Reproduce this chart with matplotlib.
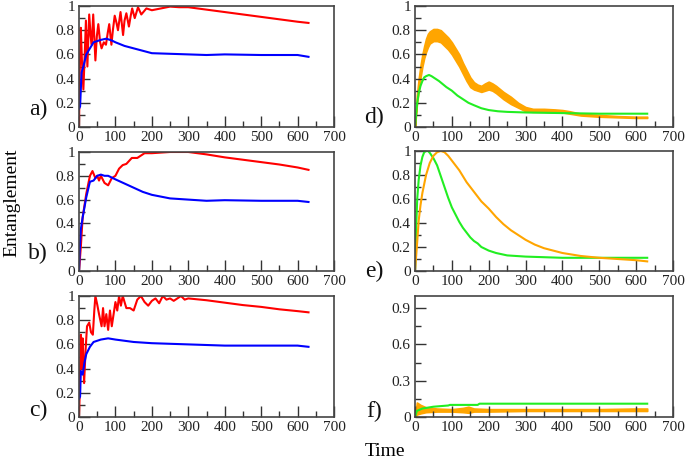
import numpy as np
import matplotlib
matplotlib.use("Agg")
import matplotlib.pyplot as plt
from matplotlib.ticker import MultipleLocator

plt.rcParams['font.family'] = ['Liberation Serif', 'DejaVu Serif']

# ---- data (time, value) ----
# panel a
a_red_t = [0, 2, 5, 8, 12, 16, 19, 23, 28, 32, 35, 39, 45, 49, 53, 58, 62, 68, 74, 79, 83, 89, 93, 98,
           103, 107, 114, 121, 125, 130, 137, 142, 146, 153, 162, 171, 185, 200, 225, 250, 275, 300,
           325, 350, 375, 400, 425, 450, 475, 500, 525, 550, 575, 600, 630]
a_red_v = [0.0, 0.45, 0.82, 0.55, 0.31, 0.62, 0.88, 0.5, 0.93, 0.75, 0.68, 0.93, 0.55, 0.75, 0.85, 0.7,
           0.65, 0.7, 0.68, 0.78, 0.85, 0.68, 0.8, 0.92, 0.86, 0.8, 0.95, 0.76, 0.88, 0.94, 0.83, 0.92,
           0.98, 0.9, 0.99, 0.93, 0.98, 0.965, 0.98, 0.995, 0.99, 0.99, 0.98, 0.97, 0.96, 0.95, 0.94,
           0.93, 0.92, 0.91, 0.9, 0.89, 0.88, 0.87, 0.86]
a_blue_t = [0, 3, 7, 12, 20, 30, 40, 50, 60, 75, 90, 100, 125, 150, 175, 200, 250, 300, 350, 400, 500,
            600, 630]
a_blue_v = [0.15, 0.17, 0.45, 0.5, 0.6, 0.65, 0.7, 0.71, 0.72, 0.73, 0.715, 0.7, 0.67, 0.65, 0.63,
            0.61, 0.605, 0.6, 0.595, 0.6, 0.595, 0.595, 0.58]

# panel b
b_red_t = [0, 5, 10, 20, 30, 37, 45, 50, 55, 60, 70, 80, 90, 100, 110, 120, 130, 145, 160, 180, 200,
           250, 300, 350, 400, 450, 500, 550, 600, 630]
b_red_v = [0.0, 0.2, 0.45, 0.65, 0.8, 0.84, 0.78, 0.8, 0.76, 0.8, 0.74, 0.72, 0.78, 0.8, 0.86, 0.89,
           0.9, 0.95, 0.95, 0.99, 0.99, 1.0, 1.0, 0.98, 0.955, 0.935, 0.915, 0.895, 0.87, 0.85]
b_blue_t = [0, 2, 5, 10, 20, 30, 40, 50, 60, 70, 80, 100, 125, 150, 175, 200, 250, 300, 350, 400, 500,
            600, 630]
b_blue_v = [0.0, 0.17, 0.35, 0.45, 0.62, 0.75, 0.76, 0.8, 0.81, 0.8, 0.8, 0.77, 0.735, 0.7, 0.665,
            0.64, 0.61, 0.6, 0.59, 0.595, 0.59, 0.59, 0.58]

# panel c
c_red_t = [0, 2, 5, 8, 10, 14, 18, 22, 28, 33, 38, 42, 45, 50, 55, 62, 66, 70, 75, 80, 85, 90, 95, 100,
           105, 110, 115, 120, 125, 130, 140, 150, 160, 170, 180, 190, 200, 210, 220, 230, 240, 250,
           260, 270, 280, 290, 300, 350, 400, 450, 500, 550, 600, 630]
c_red_v = [0.0, 0.2, 0.68, 0.4, 0.65, 0.28, 0.55, 0.75, 0.78, 0.7, 0.68, 0.88, 1.0, 0.93, 0.85, 0.75,
           0.9, 0.75, 0.85, 0.72, 0.88, 0.75, 0.85, 0.95, 0.88, 1.0, 0.92, 1.0, 0.95, 0.9, 0.9, 0.88, 0.97,
           1.0, 0.95, 0.92, 0.96, 0.98, 0.94, 1.0, 0.97, 0.98, 0.96, 0.98, 1.0, 0.97, 0.98, 0.965, 0.945,
           0.925, 0.91, 0.89, 0.875, 0.865]
c_blue_t = [0, 3, 5, 10, 15, 20, 30, 40, 60, 80, 100, 150, 200, 300, 400, 500, 600, 630]
c_blue_v = [0.15, 0.17, 0.38, 0.35, 0.45, 0.52, 0.58, 0.62, 0.64, 0.65, 0.64, 0.62, 0.61, 0.6, 0.59,
            0.59, 0.59, 0.58]

# panel d (orange is a thick oscillating band: lower / upper edge)
d_orange_t = [0, 5, 10, 15, 20, 25, 30, 35, 40, 50, 60, 70, 80, 90, 100, 110, 120, 130, 140, 150, 160,
              170, 180, 190, 200, 210, 220, 240, 260, 280, 300, 320, 350, 380, 400, 420, 450, 500, 550,
              600, 630]
d_orange_lo = [0.0, 0.18, 0.3, 0.41, 0.5, 0.57, 0.62, 0.66, 0.69, 0.71, 0.71, 0.7, 0.67, 0.64, 0.6, 0.55,
               0.5, 0.44, 0.38, 0.33, 0.31, 0.3, 0.29, 0.3, 0.31, 0.3, 0.28, 0.23, 0.19, 0.16, 0.13,
               0.125, 0.125, 0.12, 0.12, 0.11, 0.095, 0.085, 0.08, 0.075, 0.075]
d_orange_hi = [0.0, 0.26, 0.4, 0.51, 0.6, 0.67, 0.73, 0.77, 0.79, 0.81, 0.81, 0.8, 0.77, 0.74, 0.7,
               0.65, 0.6, 0.53, 0.47, 0.41, 0.37, 0.35, 0.34, 0.36, 0.375, 0.36, 0.34, 0.29, 0.25, 0.2,
               0.165, 0.15, 0.15, 0.145, 0.14, 0.13, 0.11, 0.1, 0.09, 0.085, 0.085]
d_green_t = [0, 3, 6, 10, 15, 20, 25, 30, 38, 45, 55, 65, 75, 85, 100, 115, 130, 145, 160, 180, 200,
             225, 250, 300, 400, 500, 630]
d_green_v = [0.0, 0.1, 0.2, 0.28, 0.34, 0.38, 0.41, 0.42, 0.43, 0.42, 0.4, 0.38, 0.355, 0.33, 0.3,
             0.26, 0.23, 0.2, 0.18, 0.155, 0.14, 0.13, 0.125, 0.12, 0.115, 0.11, 0.11]

# panel e
e_green_t = [0, 3, 6, 10, 15, 20, 25, 30, 35, 40, 50, 60, 70, 80, 90, 100, 110, 120, 130, 140, 150,
             160, 170, 180, 190, 200, 220, 250, 300, 350, 400, 630]
e_green_v = [0.0, 0.35, 0.6, 0.76, 0.88, 0.95, 0.99, 1.0, 1.0, 0.985, 0.94, 0.88, 0.79, 0.7, 0.61, 0.53,
             0.47, 0.41, 0.36, 0.32, 0.28, 0.25, 0.23, 0.2, 0.185, 0.17, 0.15, 0.13, 0.12, 0.115, 0.11, 0.11]
e_orange_t = [0, 5, 10, 15, 20, 30, 40, 50, 60, 70, 80, 90, 100, 110, 120, 130, 140, 150, 160, 170,
              180, 190, 200, 220, 240, 260, 280, 300, 325, 350, 375, 400, 450, 500, 550, 600, 630]
e_orange_v = [0.0, 0.2, 0.42, 0.55, 0.65, 0.8, 0.9, 0.96, 0.99, 1.0, 0.99, 0.96, 0.92, 0.88, 0.84, 0.79,
              0.74, 0.7, 0.66, 0.62, 0.58, 0.55, 0.52, 0.45, 0.39, 0.34, 0.3, 0.26, 0.22, 0.19, 0.17,
              0.15, 0.125, 0.11, 0.1, 0.09, 0.08]

# panel f
f_green_t = [0, 5, 20, 50, 90, 95, 170, 175, 630]
f_green_v = [0.0, 0.05, 0.07, 0.085, 0.095, 0.1, 0.1, 0.11, 0.11]
f_orange_t = [0, 5, 15, 30, 60, 100, 130, 145, 160, 200, 300, 400, 500, 600, 630]
f_orange_lo = [0.0, 0.02, 0.03, 0.04, 0.045, 0.045, 0.04, 0.035, 0.045, 0.045, 0.05, 0.05, 0.05, 0.05, 0.05]
f_orange_hi = [0.0, 0.12, 0.1, 0.08, 0.07, 0.065, 0.075, 0.085, 0.07, 0.065, 0.065, 0.065, 0.065, 0.07, 0.07]

RED, BLUE, ORANGE, GREEN = '#ff0000', '#0000ff', '#ffa500', '#22ee22'
W, H = 685, 462


def make_ax(fig, left, top, right, bottom):
    ax = fig.add_axes([left / W, 1 - bottom / H, (right - left) / W, (bottom - top) / H])
    ax.set_xlim(0, 700)
    ax.set_ylim(0, 1)
    ax.xaxis.set_major_locator(MultipleLocator(100))
    ax.xaxis.set_minor_locator(MultipleLocator(50))
    ax.yaxis.set_major_locator(MultipleLocator(0.2))
    ax.yaxis.set_minor_locator(MultipleLocator(0.1))
    ax.tick_params(which='both', direction='in', top=False, right=False, colors='#333333',
                   labelcolor='#222222', labelsize=11, width=1.0, pad=3)
    ax.tick_params(which='major', length=8)
    ax.tick_params(which='minor', length=4)
    ax.yaxis.set_major_formatter(lambda v, p: '0' if v == 0 else ('1' if abs(v - 1) < 1e-9 else '%g' % v))
    for s in ax.spines.values():
        s.set_color('#444444')
        s.set_linewidth(1.2)
    return ax


fig = plt.figure(figsize=(6.85, 4.62), dpi=100)

ax_a = make_ax(fig, 79, 6, 334, 127)
ax_a.plot(a_red_t, a_red_v, color=RED, lw=1.5)
ax_a.plot(a_blue_t, a_blue_v, color=BLUE, lw=1.5)

ax_b = make_ax(fig, 79, 152, 334, 271)
ax_b.plot(b_red_t, b_red_v, color=RED, lw=1.5)
ax_b.plot(b_blue_t, b_blue_v, color=BLUE, lw=1.5)

ax_c = make_ax(fig, 79, 296, 334, 417)
ax_c.plot(c_red_t, c_red_v, color=RED, lw=1.5)
ax_c.plot(c_blue_t, c_blue_v, color=BLUE, lw=1.5)

ax_d = make_ax(fig, 415, 6, 673, 127)
ax_d.fill_between(d_orange_t, d_orange_lo, d_orange_hi, color=ORANGE, lw=1.2, edgecolor=ORANGE)
ax_d.plot(d_green_t, d_green_v, color=GREEN, lw=1.5)

ax_e = make_ax(fig, 415, 151, 673, 271)
ax_e.plot(e_green_t, e_green_v, color=GREEN, lw=1.5)
ax_e.plot(e_orange_t, e_orange_v, color=ORANGE, lw=1.5)

ax_f = make_ax(fig, 415, 296, 673, 417)
ax_f.fill_between(f_orange_t, f_orange_lo, f_orange_hi, color=ORANGE, lw=1.2, edgecolor=ORANGE)
ax_f.plot(f_green_t, f_green_v, color=GREEN, lw=1.5)
ax_f.yaxis.set_major_locator(MultipleLocator(0.3))
ax_f.yaxis.set_minor_locator(MultipleLocator(0.15))
ax_f.set_ylim(0, 1)

# panel letters
for lab, x, y in [('a)', 38, 109), ('b)', 38, 253), ('c)', 38, 410),
                  ('d)', 374, 117), ('e)', 374, 271), ('f)', 374, 411)]:
    fig.text(x / W, 1 - y / H, lab, fontsize=17, ha='center', va='center', color='#111111')

fig.text(12 / W, 1 - 203 / H, 'Entanglement', rotation=90, fontsize=14, ha='center', va='center')
fig.text(385 / W, 1 - 452 / H, 'Time', fontsize=14, ha='center', va='center')

fig.savefig('out.png', dpi=100)
